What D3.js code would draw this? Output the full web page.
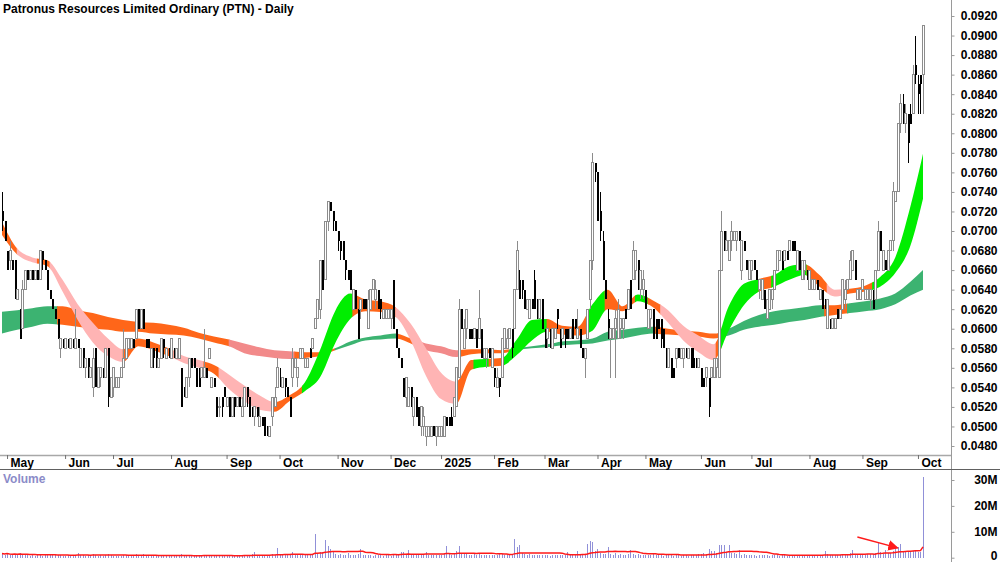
<!DOCTYPE html>
<html><head><meta charset="utf-8">
<script src="https://cdn.jsdelivr.net/npm/d3@7"></script>
<style>
body{margin:0;background:#fff}
svg text{font-family:"Liberation Sans Narrow","Arial Narrow","Liberation Sans",Arial,sans-serif;font-weight:bold;font-size:12px}
</style></head><body><svg id="c" width="1000" height="562"></svg>
<script>
// ---------- DATA ----------
const title = "Patronus Resources Limited Ordinary (PTN) - Daily";
const firstDay = "2024-04-29", lastDay = "2025-10-03";
const holidays = ["2024-06-10","2024-12-25","2024-12-26","2025-01-01","2025-01-27","2025-04-18","2025-04-21","2025-04-25","2025-06-09"];
const monthNames = ["2025","Feb","Mar","Apr","May","Jun","Jul","Aug","Sep","Oct","Nov","Dec"]; // January shows the year
// prices in tenths of a cent (0.001 AUD)
const open = [72,71,68,67,67,67,63,62,60,64,66,65,66,65,66,65,68,67,66,64,63,62,61,58,59,58,59,58,59,58,59,56,58,56,57,55,54,58,54,55,56,55,58,53,54,54,54,55,56,57,58,58,59,59,62,60,62,59,59,56,58,58,56,57,59,57,58,57,58,57,57,56,54,53,55,57,57,56,55,55,55,56,57,54,55,53,52,53,54,52,53,51,53,52,53,51,52,54,53,52,51,52,50,51,51,50,49,51,52,54,55,54,55,54,53,55,56,55,57,57,56,56,58,58,60,61,62,67,65,71,73,72,71,70,69,69,67,66,66,62,64,62,62,63,63,60,62,64,63,64,63,61,61,61,61,65,60,58,57,55,53,52,54,51,53,52,50,50,49,49,49,50,49,49,49,49,51,51,51,51,52,55,62,58,60,60,60,59,60,59,60,57,57,58,56,56,54,55,55,58,58,59,60,60,64,65,65,64,62,61,63,65,63,61,63,60,59,60,58,59,62,60,59,60,60,59,61,61,59,60,58,57,59,63,67,77,76,72,69,65,61,59,59,60,59,60,60,62,62,65,65,66,67,64,64,64,60,61,62,61,61,61,60,58,56,57,56,57,58,57,57,58,57,58,57,57,56,56,55,55,55,55,55,56,55,66,70,68,67,69,69,69,70,66,69,67,65,66,67,66,64,63,64,61,62,63,64,66,67,68,67,68,68,69,69,66,68,65,66,66,64,64,64,65,63,64,63,60,61,60,60,62,61,62,63,64,65,66,67,63,63,64,63,63,63,64,63,66,70,66,67,66,68,69,73,74,81,83,81,82,82,82,87,85,86,86];
const high = [74,71,68,69,67,67,64,62,65,66,66,66,66,66,66,68,68,67,66,64,63,62,61,59,59,59,59,59,59,62,59,58,58,57,57,56,58,58,56,56,56,58,58,55,56,55,55,56,60,59,59,59,59,62,62,62,62,59,59,58,58,58,57,59,59,58,58,59,58,58,59,56,54,55,57,57,57,56,56,56,60,56,58,55,55,53,53,53,54,53,53,53,53,53,53,53,54,54,53,52,52,52,52,51,51,50,50,53,54,57,56,55,55,54,53,58,57,56,58,58,57,57,58,59,61,63,67,67,71,73,73,72,71,70,69,69,67,66,66,64,64,62,63,63,63,64,64,65,65,64,63,62,62,62,62,65,60,58,57,55,55,54,54,53,53,52,52,52,50,50,50,50,50,50,50,51,51,51,52,53,56,63,62,61,62,60,60,60,60,64,60,58,58,58,58,56,56,55,59,60,60,60,60,64,69,66,65,64,63,63,63,66,63,63,63,60,60,60,60,60,62,60,60,60,60,60,61,61,62,60,58,58,62,67,78,77,76,74,70,65,62,60,60,62,63,61,61,62,64,65,69,68,67,66,66,64,62,62,62,61,61,61,60,58,58,57,56,58,58,58,58,58,58,58,58,57,57,56,55,56,55,56,57,57,66,72,70,70,69,71,70,70,70,69,69,67,67,67,67,66,65,65,64,63,64,64,66,68,68,68,68,68,69,69,69,68,68,67,67,66,66,65,65,65,64,64,63,63,61,61,61,62,62,65,65,65,68,68,67,64,64,65,64,64,64,64,66,71,70,68,67,68,69,75,74,81,84,84,83,82,83,87,90,86,86,91];
const low = [70,69,66,66,66,63,63,59,60,64,65,65,65,65,65,65,66,66,64,63,62,61,59,57,58,58,58,58,58,58,58,56,56,55,55,55,53,54,54,54,55,55,52,53,53,54,54,55,56,57,58,58,58,59,60,60,60,58,58,56,56,56,56,57,57,57,57,57,57,57,57,52,53,53,54,56,56,54,54,55,55,55,57,54,54,51,51,51,53,52,51,51,51,52,52,51,52,52,51,51,50,51,50,50,49,49,49,50,52,54,54,54,53,53,51,54,56,54,57,57,56,56,57,58,60,61,61,64,65,70,72,70,70,68,67,67,65,65,64,62,62,59,61,62,62,60,62,64,62,62,61,61,61,61,60,60,58,57,56,53,52,52,52,50,51,50,49,49,48,49,49,49,48,49,49,49,50,50,50,51,52,55,60,58,59,59,59,59,58,59,57,57,56,57,56,54,54,53,55,58,58,59,57,60,64,63,63,62,62,61,62,62,61,61,60,58,58,58,58,59,60,58,59,58,59,59,59,60,59,58,57,55,59,62,66,75,71,69,65,63,59,55,59,55,59,59,59,61,62,62,65,65,64,63,63,62,60,60,59,59,60,58,58,56,56,55,55,56,57,57,56,57,57,56,56,56,56,54,54,54,51,55,55,55,55,66,68,68,67,68,69,68,69,65,68,66,65,65,66,65,63,63,62,61,62,62,64,66,67,66,67,67,68,68,68,66,66,65,65,65,64,64,64,64,63,62,62,60,60,60,60,61,61,62,62,64,65,66,65,63,63,64,63,63,62,62,63,66,68,66,66,66,68,68,73,74,80,81,80,77,81,82,85,82,82,82];
const close = [71,69,66,68,66,64,64,59,64,66,65,66,65,66,65,68,67,66,64,63,62,61,59,59,58,59,58,59,58,59,58,58,56,57,55,56,57,54,56,56,55,58,53,55,56,55,55,56,57,59,59,59,58,62,60,62,60,58,58,58,57,56,57,59,58,58,57,59,57,58,59,52,53,55,57,56,56,54,54,56,56,55,58,55,54,51,52,52,53,53,51,53,52,53,52,52,54,53,51,51,52,51,51,50,49,49,50,53,53,56,54,55,54,53,51,57,57,56,58,58,57,57,57,59,61,63,67,64,71,73,72,71,70,69,68,67,66,65,64,64,62,59,63,62,62,63,64,65,64,62,62,62,62,62,62,60,58,57,56,53,55,54,52,53,51,50,52,51,50,50,50,49,50,50,50,51,50,50,50,53,56,62,60,60,62,59,59,60,58,61,57,58,58,57,58,55,55,54,59,60,59,60,58,64,68,63,64,62,63,63,62,62,62,63,60,58,60,58,60,60,61,58,60,59,59,60,59,60,60,58,57,58,62,67,77,76,71,70,65,63,60,60,60,61,62,61,61,61,64,62,68,68,64,66,65,62,62,62,59,59,60,59,58,56,58,55,55,58,57,58,58,57,58,56,56,56,57,54,54,56,52,56,57,57,66,70,69,69,69,70,70,70,69,69,68,66,67,67,66,65,65,65,62,63,64,64,66,68,68,66,68,67,69,68,68,68,66,67,67,65,66,65,65,64,64,62,62,63,60,61,61,61,62,65,64,65,67,68,65,64,64,65,64,64,64,62,66,70,68,68,66,68,69,74,74,81,83,82,82,79,81,86,86,84,85,91];
// volume in millions of shares
const volume = [1.6,1.2,2.0,1.1,1.0,1.4,0.9,1.9,1.2,1.1, 0.9,0.8,1.0,0.7,0.9,1.2,0.8,0.9,1.1,1.2, 1.0,0.9,1.2,1.1,0.8,0.7,0.9,0.8,0.7,1.2, 2.0,1.1,0.9,0.8,1.0,0.7,1.4,1.2,0.8,0.9, 0.8,1.1,1.5,0.9,0.8,0.7,0.6,0.8,1.2,1.1, 0.8,0.7,0.8,1.3,1.0,0.9,1.6,0.9,0.7,0.8, 0.7,0.9,0.6,0.9,0.7,0.6,0.8,0.9,0.7,0.6, 0.8,1.3,1.0,0.8,0.9,0.7,0.6,0.8,0.9,0.7, 1.2,0.7,0.6,0.8,0.7,1.0,0.8,0.7,0.9,0.8, 0.9,0.7,0.8,0.6,0.9,0.8,1.0,0.7,1.2,1.3, 2.2,1.1,0.8,0.9,1.2,1.0,0.8,1.4,1.1,3.8, 1.2,0.9,1.0,1.1,1.2,2.3,1.1,0.9,1.2,1.0, 1.1,0.9,1.0,1.3,9.3,1.8,2.3,2.3,6.7,4.7, 3.5,2.3,1.5,1.2,1.4,1.1,1.0,1.9,1.2,0.9, 1.1,1.3,3.3,1.2,1.0,0.9,1.1,0.8,0.9,1.2, 1.0,0.8,0.9,1.1,0.8,1.5,1.2,1.3,2.3,2.3, 1.4,3.0,1.3,1.2,1.1,1.5,1.2,1.3,2.2,1.1, 0.9,1.0,1.2,0.9,1.1,1.5,4.7,1.3,1.1,1.8, 2.6,4.7,1.7,1.5,1.3,1.2,1.1,1.4,1.0,1.6, 1.2,1.0,0.9,1.1,1.0,1.2,0.9,1.3,1.5,1.1, 1.2,1.0,1.3,7.2,4.0,5.0,2.0,1.5,1.2,1.3, 1.1,1.0,1.2,0.9,1.1,1.0,0.9,0.8,1.0,0.9, 1.1,0.9,1.0,1.2,2.3,1.1,0.9,1.2,2.7,1.3, 1.5,1.2,5.1,6.4,6.0,2.7,3.3,1.8,1.5,1.3, 4.2,1.3,1.2,2.0,1.1,1.3,1.0,1.2,1.4,3.0, 1.5,1.1,1.3,1.0,1.2,0.9,1.0,1.1,2.0,1.0, 0.9,1.1,0.8,1.0,0.9,1.2,0.8,0.9,1.1,0.8, 0.9,1.0,0.8,1.1,0.9,1.2,1.3,1.5,1.8,1.4, 3.3,2.7,2.7,1.8,5.0,5.0,5.0,2.1,5.0,1.7, 2.0,1.4,3.0,1.2,1.3,1.1,1.0,0.9,1.1,0.8, 0.9,1.0,1.2,0.9,0.8,1.0,0.9,1.1,0.8,0.9, 1.0,0.8,0.9,1.1,0.8,0.9,1.0,0.8,0.7,0.9, 1.0,0.8,1.1,0.9,1.2,1.0,2.7,1.3,1.1,0.9, 1.0,1.2,1.1,1.5,1.3,1.2,1.9,3.0,1.4,1.1, 1.3,1.2,1.1,1.3,1.4,1.5,1.8,5.5,2.1,1.6, 3.0,1.8,1.7,2.5,4.0,4.0,5.4,2.6,2.6,2.6, 2.6,2.6,2.4,2.1,2.3,31.0];
const ribbonIdx = [0,6,12,18,24,30,36,42,48,54,60,66,72,78,84,90,96,102,108,114,120,126,132,138,144,150,156,162,168,174,180,186,192,198,204,210,216,222,228,234,240,246,252,258,264,270,276,282,288,294,300,306,312,318,324,330,336,342,348,354,360,365];
const shortTop = [70.9,68.2,67.3,67.0,65.0,62.5,60.6,59.0,57.9,59.0,58.6,58.0,57.2,56.8,56.3,55.3,54.2,53.2,52.5,53.2,54.5,57.8,61.8,63.6,63.0,62.8,62.2,60.5,58.0,55.5,54.6,56.8,56.9,57.0,58.9,60.9,61.0,60.3,60.2,62.5,64.0,62.3,63.5,62.9,61.9,60.3,59.3,58.4,62.3,64.6,65.1,65.5,66.4,66.6,65.5,64.0,64.1,64.4,65.3,67.3,72.5,77.9];
const shortBot = [69.6,67.6,66.8,66.4,63.8,60.9,58.6,57.2,56.6,58.2,57.8,57.2,56.5,56.0,55.4,53.8,52.6,51.7,51.5,52.6,53.6,55.0,58.5,61.0,61.8,61.7,61.2,58.8,55.2,52.8,52.3,55.8,56.1,56.2,57.3,58.8,59.7,59.4,59.3,59.8,62.0,61.8,62.8,62.2,60.6,58.8,57.6,56.8,59.8,62.4,63.8,64.3,65.0,65.5,64.3,63.3,63.6,63.8,64.3,65.7,68.5,73.3];
const longTop = [61.75,61.9,62.1,62.3,62.3,61.9,61.6,61.2,60.9,60.7,60.6,60.4,60.1,59.6,59.2,58.9,58.5,58.1,57.8,57.7,57.6,57.6,58.0,58.7,59.1,59.3,59.5,59.0,58.5,58.2,57.8,57.9,57.9,57.8,58.0,58.2,58.4,58.7,58.8,59.0,59.7,59.9,60.1,60.2,60.0,59.8,59.7,59.5,60.0,60.8,61.4,61.8,62.0,62.2,62.4,62.4,62.6,62.8,63.1,63.6,64.8,66.0];
const longBot = [59.5,59.9,60.2,60.5,60.4,60.2,60.0,59.9,59.7,59.7,59.5,59.4,59.3,59.0,58.6,58.2,57.5,57.2,57.0,56.9,57.0,57.2,57.8,58.3,58.8,58.9,59.0,58.5,57.8,57.5,57.1,57.4,57.5,57.5,57.8,58.0,58.1,58.3,58.4,58.5,58.8,59.0,59.3,59.5,59.4,59.3,59.2,59.0,59.3,59.9,60.2,60.4,60.7,60.9,61.2,61.4,61.6,61.8,62.0,62.5,63.4,64.0];
// ribbon state changes: first trading-day index of each colour run (G rising, P falling, O mixed, R long falling)
const shortStateStart = [0,6,14,19,48,68,80,86,107,119,139,156,180,187,193,198,216,232,239,251,256,261,283,285,300,305,319,327,333,345];
const shortState      = ["O","P","O","P","O","P","O","P","O","G","O","P","O","G","O","G","O","G","O","G","O","P","O","G","O","G","O","P","O","G"];
const longStateStart  = [0,22,90,116,132,157,166,182,201,259,284,326,335];
const longState       = ["G","O","R","O","G","O","R","O","G","O","G","O","G"];
const priceTicks = [0.048,0.050,0.052,0.054,0.056,0.058,0.060,0.062,0.064,0.066,0.068,0.070,0.072,0.074,0.076,0.078,0.080,0.082,0.084,0.086,0.088,0.090,0.092];
const volumeTicks = [0,10e6,20e6,30e6];
const volumeMAPeriod = 20;
const arrowFrom = [339, 8.0e6], arrowTo = [355, 3.8e6];

// ---------- CHART ----------
const N = close.length;
const fmtDay = d3.timeFormat("%Y-%m-%d");
const hol = new Set(holidays);
const dates = d3.timeDay.range(d3.timeParse("%Y-%m-%d")(firstDay), d3.timeDay.offset(d3.timeParse("%Y-%m-%d")(lastDay),1))
  .filter(d => d.getDay()!==0 && d.getDay()!==6 && !hol.has(fmtDay(d)));
const P = v => v/1000;

const svg = d3.select("#c");
const x = d3.scaleLinear().domain([0, N-1]).range([2, 923]);
const y = d3.scaleLinear().domain([0.048, 0.092]).range([446, 16]);
const yv = d3.scaleLinear().domain([0, 30e6]).range([557.7, 480]);
const AX = 951;

const defs = svg.append("defs");
defs.append("clipPath").attr("id","pclip").append("rect").attr("x",0).attr("y",0).attr("width",AX).attr("height",455);
defs.append("clipPath").attr("id","vclip").append("rect").attr("x",0).attr("y",470).attr("width",AX).attr("height",92);

const colors = {G:"#00ee00", P:"#ffb4b4", O:"#ff6619", LG:"#3cb371", R:"#f28a8a"};
const price = svg.append("g").attr("clip-path","url(#pclip)");

function ribbon(top, bot, starts, states, isLong, id){
  const pts = ribbonIdx.map((idx,k)=>({i:idx, t:P(top[k]), b:P(bot[k])}));
  const area = d3.area().x(d=>x(d.i)).y0(d=>y(d.b)).y1(d=>y(d.t)).curve(d3.curveMonotoneX);
  const g = price.append("g");
  starts.forEach((s,j)=>{
    const e = j<starts.length-1 ? starts[j+1] : N-1;
    const x0 = j===0 ? 0 : x(s)-0.4, x1 = j===starts.length-1 ? AX : x(e)+0.4;
    const cid = id+j;
    defs.append("clipPath").attr("id",cid).append("rect").attr("x",x0).attr("y",0).attr("width",x1-x0).attr("height",455);
    let c = states[j];
    const col = isLong ? (c==="G"?colors.LG:c==="R"?colors.R:colors.O) : colors[c];
    g.append("path").attr("clip-path",`url(#${cid})`).attr("d",area(pts)).attr("fill",col);
  });
}
ribbon(longTop, longBot, longStateStart, longState, true, "lc");
ribbon(shortTop, shortBot, shortStateStart, shortState, false, "sc");

// candles
const cg = price.append("g").attr("shape-rendering","crispEdges");
d3.range(N).forEach(i=>{
  const up = close[i] >= open[i];
  const cx = Math.round(x(i));
  const col = up ? "#8c8c8c" : "#000";
  cg.append("line").attr("x1",cx+0.5).attr("x2",cx+0.5).attr("y1",y(P(high[i]))).attr("y2",y(P(low[i]))).attr("stroke",col).attr("stroke-width",1);
  const yt = y(P(Math.max(open[i],close[i]))), yb = y(P(Math.min(open[i],close[i])));
  if (up) {
    cg.append("rect").attr("x",cx-0.5).attr("y",yt).attr("width",2).attr("height",Math.max(yb-yt,1)).attr("fill","#fff").attr("stroke",col).attr("stroke-width",1);
  } else {
    cg.append("rect").attr("x",cx-0.5).attr("y",yt).attr("width",2).attr("height",Math.max(yb-yt,1)).attr("fill","#000");
  }
});

// title
svg.append("text").attr("x",3).attr("y",13).attr("fill","#000").text(title);

// right axis line
svg.append("line").attr("x1",AX+0.5).attr("x2",AX+0.5).attr("y1",0).attr("y2",562).attr("stroke","#9a9a9a");

// price axis
const pa = svg.append("g").attr("transform",`translate(${AX+0.5},0)`)
  .call(d3.axisRight(y).tickValues(priceTicks).tickSize(3).tickFormat(d3.format(".4f")));
pa.select(".domain").remove();
pa.selectAll("line").attr("stroke","#9a9a9a");
pa.selectAll("text").attr("x",46).attr("text-anchor","end").attr("fill","#000").style("font-size","12px").style("font-family",null);

// date band
svg.append("line").attr("x1",0).attr("x2",AX).attr("y1",455.5).attr("y2",455.5).attr("stroke","#a8a8a8").attr("stroke-width",1.5);
svg.append("line").attr("x1",0).attr("x2",1000).attr("y1",469.5).attr("y2",469.5).attr("stroke","#606060").attr("stroke-width",1);
const monthIdx = d3.range(1, dates.length).filter(i => dates[i].getMonth() !== dates[i-1].getMonth());
const da = svg.append("g").attr("transform","translate(0,455)")
  .call(d3.axisBottom(x).tickValues(monthIdx).tickSize(4).tickFormat(i => monthNames[dates[i].getMonth()]));
da.select(".domain").remove();
da.selectAll("line").attr("stroke","#707070");
da.selectAll("text").attr("y",11.5).attr("dy",null).attr("x",3).attr("text-anchor","start").attr("fill","#000").style("font-size","12px").style("font-family",null);

// volume panel
svg.append("text").attr("x",3).attr("y",483).attr("fill","#8b8bc8").text("Volume");
const vg = svg.append("g").attr("clip-path","url(#vclip)");
vg.append("g").attr("shape-rendering","crispEdges").selectAll("rect").data(volume).join("rect")
  .attr("x",(d,i)=>Math.round(x(i))).attr("width",1)
  .attr("y",d=>yv(d*1e6)).attr("height",d=>yv(0)-yv(d*1e6)).attr("fill","#9090d8");
const vma = volume.map((d,i)=>{ const s = volume.slice(Math.max(0,i-volumeMAPeriod+1), i+1); return d3.mean(s)*1e6; });
vg.append("path").attr("d", d3.line().x((d,i)=>x(i)).y(d=>yv(d))(vma)).attr("fill","none").attr("stroke","#ff1a1a").attr("stroke-width",1.5);
// annotation arrow
defs.append("marker").attr("id","ah").attr("viewBox","0 0 10 10").attr("refX",9).attr("refY",5).attr("markerWidth",7).attr("markerHeight",7).attr("orient","auto")
  .append("path").attr("d","M0,0L10,5L0,10z").attr("fill","#ff1a1a");
svg.append("line").attr("x1",x(arrowFrom[0])).attr("y1",yv(arrowFrom[1])).attr("x2",x(arrowTo[0])).attr("y2",yv(arrowTo[1]))
  .attr("stroke","#ff1a1a").attr("stroke-width",1.5).attr("marker-end","url(#ah)");

const va = svg.append("g").attr("transform",`translate(${AX+0.5},0)`)
  .call(d3.axisRight(yv).tickValues(volumeTicks).tickSize(3).tickFormat(d => d===0 ? "0" : (d/1e6)+"M"));
va.select(".domain").remove();
va.selectAll("line").attr("stroke","#9a9a9a");
va.selectAll("text").attr("x",46).attr("text-anchor","end").attr("fill","#000").style("font-size","12px").style("font-family",null)
  .attr("dy", d => d===0 ? "0.12em" : "0.32em");
</script></body></html>
